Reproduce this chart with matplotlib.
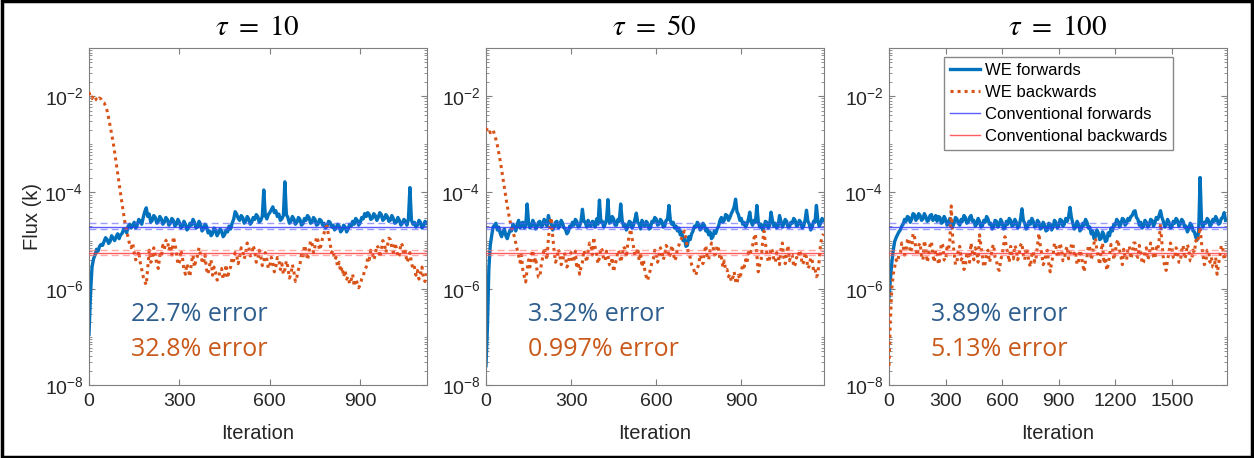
import matplotlib
matplotlib.use('Agg')
import matplotlib.pyplot as plt
import numpy as np
from matplotlib.patches import Rectangle
from matplotlib.ticker import FixedLocator, LogLocator, NullFormatter

plt.rcParams['font.family'] = ['Liberation Sans', 'DejaVu Sans']
plt.rcParams['mathtext.fontset'] = 'stix'

# log10 of flux; sampled every 5 iterations (tau = 10, 50) and every 7.5 (tau = 100)
we_fw_tau10 = [
    -6.95, -6.10, -5.55, -5.38, -5.30, -5.18, -5.22, -5.12, -5.08, -5.10, -5.02, -4.94, -4.98, -5.06, -5.02, -4.90, -4.95, -5.00, -4.92, -4.86,
    -4.96, -4.88, -4.85, -4.76, -4.78, -4.84, -4.70, -4.66, -4.74, -4.68, -4.62, -4.74, -4.68, -4.56, -4.60, -4.66, -4.52, -4.40, -4.32, -4.50,
    -4.45, -4.62, -4.58, -4.48, -4.52, -4.64, -4.60, -4.50, -4.55, -4.66, -4.62, -4.52, -4.56, -4.68, -4.64, -4.54, -4.58, -4.70, -4.66, -4.56,
    -4.62, -4.74, -4.70, -4.60, -4.66, -4.78, -4.74, -4.64, -4.68, -4.56, -4.62, -4.74, -4.72, -4.60, -4.66, -4.80, -4.76, -4.66, -4.70, -4.84,
    -4.80, -4.90, -4.86, -4.74, -4.78, -4.90, -4.84, -4.76, -4.80, -4.92, -4.88, -4.78, -4.82, -4.70, -4.76, -4.64, -4.56, -4.40, -4.45, -4.54,
    -4.58, -4.48, -4.52, -4.64, -4.60, -4.50, -4.55, -4.66, -4.62, -4.52, -4.56, -4.46, -4.50, -4.62, -4.58, -4.50, -3.95, -4.48, -4.55, -4.46,
    -4.42, -4.36, -4.30, -4.42, -4.38, -4.50, -4.45, -4.58, -4.55, -4.48, -3.78, -4.46, -4.52, -4.64, -4.60, -4.50, -4.55, -4.66, -4.62, -4.52,
    -4.56, -4.68, -4.65, -4.54, -4.58, -4.48, -4.52, -4.64, -4.62, -4.52, -4.56, -4.68, -4.66, -4.56, -4.58, -4.68, -4.64, -4.74, -4.70, -4.60,
    -4.62, -4.72, -4.68, -4.78, -4.74, -4.66, -4.70, -4.82, -4.78, -4.68, -4.72, -4.82, -4.76, -4.66, -4.70, -4.60, -4.66, -4.54, -4.58, -4.68,
    -4.62, -4.52, -4.55, -4.44, -4.50, -4.42, -4.46, -4.56, -4.54, -4.44, -4.48, -4.58, -4.52, -4.42, -4.46, -4.58, -4.55, -4.46, -4.50, -4.60,
    -4.58, -4.48, -4.54, -4.64, -4.62, -4.52, -4.58, -4.68, -4.64, -4.56, -4.60, -4.68, -4.55, -3.90, -4.58, -4.66, -4.62, -4.72, -4.68, -4.58,
    -4.62, -4.74, -4.70, -4.60, -4.64]
we_bw_tau10 = [
    -1.92, -2.02, -2.05, -1.98, -2.02, -2.08, -2.10, -2.04, -2.06, -2.12, -2.14, -2.20, -2.30, -2.45, -2.62, -2.78, -2.95, -3.16, -3.38, -3.60,
    -3.82, -4.04, -4.25, -4.45, -4.65, -4.80, -4.95, -5.08, -5.15, -5.05, -5.25, -5.40, -5.35, -5.22, -5.45, -5.60, -5.75, -5.85, -5.92, -5.55,
    -5.20, -5.45, -5.40, -5.15, -5.30, -5.50, -5.58, -5.30, -5.35, -5.10, -5.18, -5.00, -4.98, -5.20, -5.10, -5.30, -4.92, -5.05, -5.25, -5.50,
    -5.45, -5.20, -5.35, -5.60, -5.70, -5.48, -5.62, -5.75, -5.45, -5.30, -5.55, -5.40, -5.32, -5.15, -5.28, -5.42, -5.48, -5.30, -5.60, -5.70,
    -5.52, -5.40, -5.72, -5.55, -5.65, -5.82, -5.80, -5.62, -5.58, -5.80, -5.70, -5.50, -5.78, -5.62, -5.55, -5.35, -5.42, -5.25, -5.30, -5.48,
    -5.36, -5.15, -5.20, -5.38, -5.26, -5.05, -5.12, -5.32, -5.30, -5.10, -5.22, -5.45, -5.40, -5.20, -5.32, -5.52, -5.45, -5.25, -5.38, -5.58,
    -5.52, -5.35, -5.46, -5.65, -5.55, -5.35, -5.40, -5.60, -5.48, -5.70, -5.60, -5.42, -5.55, -5.78, -5.70, -5.50, -5.65, -5.85, -5.75, -5.60,
    -5.50, -5.28, -5.35, -5.10, -5.20, -5.40, -5.25, -5.00, -5.05, -5.25, -5.12, -4.92, -5.00, -5.20, -5.10, -4.95, -4.85, -4.72, -4.70, -4.90,
    -5.05, -5.25, -5.20, -5.40, -5.35, -5.55, -5.45, -5.65, -5.55, -5.75, -5.62, -5.80, -5.75, -5.90, -5.82, -5.70, -5.95, -5.80, -5.88, -5.98,
    -5.92, -5.80, -5.75, -5.60, -5.55, -5.35, -5.40, -5.20, -5.25, -5.40, -5.30, -5.10, -5.15, -5.35, -5.20, -5.00, -5.05, -5.25, -5.12, -4.95,
    -4.98, -5.15, -5.25, -5.05, -5.15, -5.35, -5.30, -5.05, -5.10, -5.30, -5.22, -5.45, -5.38, -5.25, -5.45, -5.60, -5.55, -5.72, -5.62, -5.80,
    -5.70, -5.55, -5.78, -5.85, -5.68]

we_fw_tau50 = [
    -7.60, -6.80, -5.60, -5.10, -4.90, -4.72, -4.68, -4.64, -4.78, -4.72, -4.85, -4.92, -4.82, -4.76, -4.90, -4.96, -4.86, -4.78, -4.80, -4.66,
    -4.72, -4.80, -4.66, -4.58, -4.74, -4.64, -4.62, -4.74, -4.70, -4.24, -4.62, -4.74, -4.70, -4.58, -4.64, -4.76, -4.72, -4.62, -4.60, -4.72,
    -4.68, -4.56, -4.62, -4.70, -4.48, -4.60, -4.66, -4.78, -4.72, -4.62, -4.60, -4.74, -4.70, -4.58, -4.64, -4.74, -4.76, -4.86, -4.82, -4.70,
    -4.72, -4.62, -4.68, -4.56, -4.60, -4.72, -4.70, -4.60, -4.35, -4.60, -4.62, -4.72, -4.58, -4.68, -4.70, -4.60, -4.62, -4.72, -4.55, -4.66,
    -4.16, -4.62, -4.60, -4.72, -4.66, -4.56, -4.15, -4.64, -4.62, -4.50, -4.55, -4.68, -4.68, -4.56, -4.60, -4.24, -4.58, -4.70, -4.66, -4.78,
    -4.72, -4.60, -4.62, -4.74, -4.68, -4.56, -4.43, -4.62, -4.66, -4.76, -4.58, -4.66, -4.70, -4.60, -4.64, -4.76, -4.74, -4.60, -4.62, -4.52,
    -4.55, -4.68, -4.66, -4.56, -4.60, -4.72, -4.70, -4.58, -4.56, -4.27, -4.58, -4.66, -4.62, -4.74, -4.70, -4.80, -4.74, -4.88, -4.82, -5.00,
    -4.95, -5.12, -5.10, -4.92, -4.98, -4.86, -4.80, -4.70, -4.72, -4.62, -4.66, -4.78, -4.74, -4.64, -4.68, -4.80, -4.76, -4.88, -4.82, -4.96,
    -4.92, -4.80, -4.85, -4.76, -4.70, -4.58, -4.52, -4.62, -4.58, -4.46, -4.48, -4.58, -4.52, -4.44, -4.38, -4.30, -4.14, -4.40, -4.46, -4.58,
    -4.54, -4.66, -4.62, -4.72, -4.66, -4.56, -4.41, -4.62, -4.68, -4.58, -4.62, -4.27, -4.60, -4.72, -4.66, -4.78, -4.72, -4.60, -4.62, -4.74,
    -4.68, -4.41, -4.58, -4.70, -4.64, -4.74, -4.70, -4.48, -4.60, -4.72, -4.66, -4.56, -4.60, -4.72, -4.72, -4.62, -4.64, -4.54, -4.58, -4.70,
    -4.68, -4.58, -4.62, -4.74, -4.70, -4.58, -4.37, -4.60, -4.66, -4.78, -4.72, -4.60, -4.62, -4.27, -4.58, -4.70, -4.64, -4.54, -4.58]
we_bw_tau50 = [
    -2.72, -2.66, -2.68, -2.76, -2.74, -2.70, -2.80, -2.90, -3.02, -3.18, -3.34, -3.52, -3.72, -3.90, -4.10, -4.28, -4.45, -4.60, -4.72, -4.82,
    -4.92, -5.05, -5.18, -5.30, -5.45, -5.30, -5.62, -5.75, -5.86, -5.60, -5.40, -5.55, -5.30, -5.20, -5.48, -5.35, -5.62, -5.76, -5.76, -5.50,
    -5.35, -5.15, -5.25, -5.40, -4.95, -4.70, -4.52, -4.90, -5.20, -5.45, -5.38, -5.18, -5.28, -5.50, -5.45, -5.25, -5.32, -5.55, -5.50, -5.30,
    -5.25, -5.45, -5.40, -5.22, -5.58, -5.45, -5.70, -5.55, -5.45, -5.20, -5.30, -5.45, -5.22, -5.05, -5.10, -5.30, -4.93, -5.15, -5.28, -5.48,
    -5.35, -5.15, -5.20, -5.40, -5.42, -5.22, -5.30, -5.50, -5.52, -5.35, -5.65, -5.50, -5.40, -5.20, -5.25, -5.45, -5.32, -5.12, -5.18, -5.35,
    -5.05, -4.90, -4.76, -4.95, -5.12, -5.30, -5.30, -5.15, -5.42, -5.25, -5.55, -5.40, -5.62, -5.75, -5.83, -5.70, -5.60, -5.45, -5.38, -5.20,
    -5.25, -5.45, -5.35, -5.15, -5.20, -5.40, -5.30, -5.10, -5.15, -5.35, -5.28, -5.10, -5.22, -5.42, -5.35, -5.15, -5.10, -5.00, -4.95, -4.85,
    -4.80, -4.98, -5.15, -5.30, -5.35, -5.50, -5.55, -5.65, -5.72, -5.58, -5.50, -5.30, -5.38, -5.48, -5.25, -5.10, -5.32, -5.40, -5.20, -5.05,
    -5.10, -5.30, -5.28, -5.10, -5.18, -5.40, -5.35, -5.55, -5.42, -5.62, -5.60, -5.75, -5.70, -5.85, -5.78, -5.65, -5.83, -5.90, -5.72, -5.80,
    -5.65, -5.50, -5.55, -5.40, -5.48, -5.25, -5.30, -5.20, -5.10, -4.95, -4.86, -5.30, -5.65, -5.50, -5.40, -5.05, -4.80, -5.05, -5.25, -5.45,
    -5.38, -5.15, -5.22, -5.40, -5.45, -5.25, -5.30, -5.50, -5.18, -5.05, -5.35, -5.48, -5.25, -5.10, -5.42, -5.30, -5.30, -5.55, -5.50, -5.35,
    -5.38, -5.20, -5.28, -5.50, -5.45, -5.25, -5.35, -5.58, -5.52, -5.35, -5.40, -5.62, -5.58, -5.75, -5.70, -5.40, -5.05, -4.92, -4.86]

we_fw_tau100 = [
    -6.17, -5.80, -5.45, -5.20, -5.02, -4.94, -4.88, -4.82, -4.78, -4.70, -4.66, -4.56, -4.60, -4.50, -4.52, -4.62, -4.56, -4.44, -4.46, -4.58,
    -4.54, -4.44, -4.48, -4.58, -4.55, -4.44, -4.50, -4.60, -4.58, -4.48, -4.46, -4.58, -4.55, -4.48, -4.60, -4.50, -4.52, -4.64, -4.62, -4.50,
    -4.56, -4.68, -4.66, -4.54, -4.58, -4.70, -4.64, -4.52, -4.55, -4.64, -4.68, -4.56, -4.60, -4.48, -4.52, -4.64, -4.62, -4.52, -4.48, -4.60,
    -4.58, -4.70, -4.66, -4.54, -4.60, -4.72, -4.70, -4.58, -4.62, -4.50, -4.55, -4.66, -4.64, -4.76, -4.72, -4.58, -4.60, -4.72, -4.68, -4.56,
    -4.62, -4.76, -4.74, -4.60, -4.66, -4.54, -4.58, -4.70, -4.68, -4.56, -4.62, -4.74, -4.70, -4.56, -4.34, -4.58, -4.64, -4.76, -4.72, -4.60,
    -4.66, -4.54, -4.60, -4.72, -4.70, -4.58, -4.62, -4.76, -4.74, -4.62, -4.68, -4.80, -4.78, -4.64, -4.66, -4.78, -4.72, -4.58, -4.62, -4.74,
    -4.70, -4.56, -4.58, -4.70, -4.66, -4.54, -4.60, -4.50, -4.31, -4.52, -4.64, -4.76, -4.72, -4.60, -4.66, -4.80, -4.76, -4.64, -4.68, -4.56,
    -4.62, -4.74, -4.72, -4.86, -4.80, -4.96, -4.92, -4.78, -4.84, -4.98, -4.96, -4.82, -4.88, -5.02, -5.00, -4.84, -4.90, -4.74, -4.80, -4.66,
    -4.68, -4.56, -4.60, -4.72, -4.66, -4.54, -4.56, -4.68, -4.64, -4.54, -4.58, -4.50, -4.48, -4.40, -4.38, -4.52, -4.56, -4.68, -4.62, -4.74,
    -4.70, -4.58, -4.62, -4.72, -4.68, -4.56, -4.58, -4.70, -4.64, -4.52, -4.56, -4.48, -4.38, -4.52, -4.60, -4.72, -4.68, -4.56, -4.62, -4.74,
    -4.72, -4.60, -4.64, -4.54, -4.58, -4.70, -4.66, -4.56, -4.60, -4.72, -4.70, -4.82, -4.76, -4.64, -4.68, -4.80, -4.82, -4.94, -4.98, -4.80,
    -3.69, -4.60, -4.72, -4.62, -4.64, -4.54, -4.58, -4.70, -4.66, -4.56, -4.60, -4.50, -4.56, -4.66, -4.64, -4.54, -4.52, -4.42, -4.58]
we_bw_tau100 = [
    -7.60, -6.60, -6.00, -5.70, -5.55, -5.40, -5.45, -5.30, -5.28, -5.05, -5.10, -5.30, -5.22, -5.00, -4.95, -5.25, -5.18, -4.85, -4.90, -5.20,
    -5.30, -5.10, -5.05, -5.35, -5.40, -5.00, -5.15, -5.45, -5.32, -5.10, -5.02, -5.30, -5.45, -5.20, -5.25, -5.50, -5.38, -5.05, -5.10, -5.40,
    -5.42, -5.15, -5.20, -5.00, -4.28, -4.95, -5.25, -5.50, -5.45, -5.20, -5.12, -5.40, -5.35, -5.60, -5.55, -5.25, -5.28, -5.45, -5.05, -5.25,
    -5.40, -5.15, -5.22, -5.45, -4.88, -5.10, -5.30, -5.55, -5.48, -5.25, -5.20, -5.45, -5.35, -5.15, -5.08, -5.35, -5.42, -5.58, -5.62, -5.40,
    -5.30, -5.10, -4.92, -5.15, -5.25, -5.45, -5.12, -5.30, -5.38, -5.10, -5.18, -5.40, -5.30, -5.10, -5.05, -5.30, -5.40, -5.15, -5.25, -5.45,
    -5.55, -5.30, -5.22, -5.45, -5.35, -5.10, -4.85, -5.10, -5.28, -5.50, -5.45, -5.25, -5.20, -5.48, -5.65, -5.45, -5.32, -5.05, -5.10, -5.35,
    -5.28, -5.05, -5.18, -5.42, -5.40, -5.20, -5.12, -5.38, -5.30, -5.08, -5.05, -5.30, -5.25, -5.50, -5.45, -5.20, -5.30, -5.50, -5.65, -5.40,
    -5.35, -5.10, -5.15, -5.40, -5.28, -5.05, -4.95, -5.20, -5.35, -5.50, -5.20, -5.05, -5.48, -5.35, -5.62, -5.50, -5.30, -5.08, -5.15, -5.40,
    -5.25, -5.05, -4.98, -5.20, -5.32, -5.50, -5.18, -5.35, -5.40, -5.15, -5.12, -5.38, -5.28, -5.05, -5.05, -5.30, -5.35, -5.10, -5.22, -5.48,
    -5.45, -5.20, -5.15, -5.40, -5.30, -5.05, -5.08, -5.32, -5.38, -5.15, -5.20, -5.00, -4.65, -5.05, -5.35, -5.55, -5.62, -5.40, -5.25, -5.05,
    -5.12, -5.35, -5.38, -5.15, -5.20, -5.45, -5.45, -5.20, -5.10, -5.38, -5.30, -5.08, -5.18, -5.42, -5.42, -5.20, -5.25, -5.00, -5.05, -4.90,
    -4.72, -5.05, -5.30, -5.50, -5.45, -5.20, -5.20, -5.45, -5.35, -5.55, -5.55, -5.35, -5.70, -5.50, -5.32, -5.10, -5.15, -5.40, -5.28]

taus = [10, 50, 100]
sample_steps = [5, 5, 7.5]
x_limits = [1120, 1190, 1790]
x_tick_sets = [[0, 300, 600, 900], [0, 300, 600, 900], [0, 300, 600, 900, 1200, 1500]]
fw_errors = ['22.7% error', '3.32% error', '3.89% error']
bw_errors = ['32.8% error', '0.997% error', '5.13% error']

# conventional estimates: mean, lower bound, upper bound
conv_fw = [1.95e-5, 1.70e-5, 2.30e-5]
conv_bw = [5.5e-6, 4.9e-6, 6.3e-6]

fw_series = [we_fw_tau10, we_fw_tau50, we_fw_tau100]
bw_series = [we_bw_tau10, we_bw_tau50, we_bw_tau100]

c_fw = '#0072BD'
c_bw = '#D95319'
gray = '#7f7f7f'

fig = plt.figure(figsize=(12.54, 4.58), dpi=100)
lefts = [89, 486, 889]
axes = []
for i in range(3):
    ax = fig.add_axes([lefts[i] / 1254, 73 / 458, 337.5 / 1254, 337 / 458])
    axes.append(ax)
    it = np.arange(len(fw_series[i])) * sample_steps[i]
    fw = 10.0 ** np.array(fw_series[i])
    bw = 10.0 ** np.array(bw_series[i])
    ax.plot(it, fw, color=c_fw, lw=2.4, label='WE forwards', zorder=2)
    ax.plot(it, bw, color=c_bw, lw=2.2, linestyle=(0, (1, 1.3)), label='WE backwards', zorder=3)

    ax.axhline(conv_fw[0], color='#3535ff', lw=1, alpha=0.8, label='Conventional forwards', zorder=4)
    for v in conv_fw[1:]:
        ax.axhline(v, color='#5a5aff', lw=1, alpha=0.6, linestyle=(0, (5, 3)), zorder=4)
    ax.axhline(conv_bw[0], color='#ff3535', lw=1, alpha=0.8, label='Conventional backwards', zorder=4)
    for v in conv_bw[1:]:
        ax.axhline(v, color='#ff7070', lw=1, alpha=0.6, linestyle=(0, (5, 3)), zorder=4)

    ax.set_yscale('log')
    ax.set_ylim(1e-8, 1e-1)
    ax.set_xlim(0, x_limits[i])
    ax.set_xticks(x_tick_sets[i])
    ax.yaxis.set_major_locator(FixedLocator([1e-8, 1e-6, 1e-4, 1e-2]))
    ax.yaxis.set_minor_locator(LogLocator(base=10, subs=np.arange(1, 10), numticks=30))
    ax.yaxis.set_minor_formatter(NullFormatter())
    ax.tick_params(which='both', direction='in', top=True, right=True, color=gray,
                   labelcolor='#262626', labelsize=14)
    ax.tick_params(which='major', length=4, width=0.8)
    ax.tick_params(which='minor', length=2, width=0.6)
    ax.tick_params(axis='x', pad=6)
    ax.tick_params(axis='y', pad=4)
    for s in ax.spines.values():
        s.set_color(gray)
        s.set_linewidth(0.8)

    ax.set_xlabel('Iteration', fontsize=14.5, color='#262626')
    ax.xaxis.set_label_coords(0.5, -0.115)
    ax.text(0.5, 1.062, r'$\tau\ =\ %d$' % taus[i], transform=ax.transAxes,
            ha='center', va='center', fontsize=21)
    ax.text(0.123, 0.208, fw_errors[i], transform=ax.transAxes, ha='left', va='center',
            fontsize=18, color='#2E5E8E', family=['Open Sans', 'DejaVu Sans'])
    ax.text(0.123, 0.105, bw_errors[i], transform=ax.transAxes, ha='left', va='center',
            fontsize=18, color='#C9591A', family=['Open Sans', 'DejaVu Sans'])

axes[0].set_ylabel('Flux (k)', fontsize=14.5, color='#262626')
axes[0].yaxis.set_label_coords(-0.139, 0.5)

axes[2].legend(loc='upper left', bbox_to_anchor=(0.163, 0.972), borderaxespad=0,
               fontsize=12, frameon=True, fancybox=False, framealpha=1,
               edgecolor='#888888', handlelength=1.8, handletextpad=0.3,
               labelspacing=0.42, borderpad=0.35)

fig.patches.append(Rectangle((0.0015, 0.003), 0.997, 0.994, transform=fig.transFigure,
                             fill=False, edgecolor='black', lw=2.5))

fig.savefig('out.png', dpi=100)
